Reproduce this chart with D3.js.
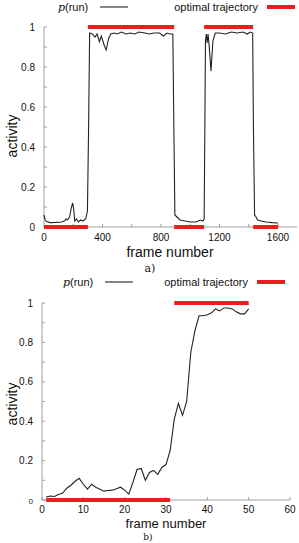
<!DOCTYPE html>
<html><head><meta charset="utf-8">
<script src="https://cdn.jsdelivr.net/npm/d3@7"></script>
<style>body{margin:0;background:#fff}svg{display:block}</style>
</head><body>
<svg id="c" width="299" height="543"></svg>
<script>
// ---- data (a) ----
const aFrames = [0,8,18,40,80,120,140,150,160,175,185,196,203,210,222,235,250,266,285,297,305,312,330,349,363,379,392,411,425,441,457,480,500,530,560,590,620,650,690,720,750,790,817,840,860,881,888,895,909,930,966,1000,1040,1068,1086,1095,1100,1104,1110,1115,1122,1130,1142,1155,1171,1200,1240,1280,1320,1360,1390,1410,1427,1432,1440,1450,1460,1485,1520,1560,1600];
const aValues = [0.06,0.035,0.027,0.022,0.023,0.025,0.03,0.04,0.035,0.05,0.09,0.12,0.09,0.03,0.04,0.025,0.035,0.03,0.04,0.08,0.5,0.97,0.965,0.95,0.965,0.927,0.955,0.91,0.885,0.94,0.965,0.97,0.965,0.975,0.965,0.97,0.965,0.975,0.97,0.965,0.97,0.97,0.955,0.97,0.965,0.965,0.5,0.06,0.05,0.035,0.03,0.025,0.025,0.035,0.03,0.04,0.5,0.93,0.965,0.92,0.965,0.9,0.78,0.93,0.97,0.97,0.965,0.975,0.97,0.975,0.965,0.975,0.97,0.5,0.06,0.05,0.035,0.03,0.025,0.022,0.02];
const aOptStart = [0,300,890,1095,1430];
const aOptEnd   = [300,890,1095,1430,1600];
const aOptLevel = [0,1,0,1,0];
const aXTicks = [0,400,800,1200,1600];
const aXMinor = [200,400,600,800,1000,1200,1400,1600];

// ---- data (b) ----
const bFrames = d3.range(1,51);
const bValues = [0.015,0.02,0.018,0.028,0.035,0.06,0.075,0.095,0.11,0.08,0.055,0.08,0.065,0.055,0.045,0.048,0.05,0.057,0.065,0.05,0.03,0.09,0.155,0.16,0.10,0.14,0.15,0.13,0.165,0.18,0.25,0.41,0.49,0.43,0.50,0.75,0.86,0.935,0.935,0.94,0.95,0.97,0.96,0.975,0.975,0.97,0.955,0.945,0.945,0.97];
const bOptStart = [1,32];
const bOptEnd   = [31,50];
const bOptLevel = [0,1];
const bXTicks = [0,10,20,30,40,50,60];

const yTicks = [0,0.2,0.4,0.6,0.8,1];
const yMinor = d3.range(0,11).map(i=>i/10);

const svg = d3.select('#c');
const SANS = "'Liberation Sans', Arial, sans-serif";
const SERIF = "'DejaVu Serif', 'Liberation Serif', serif";
const AX = '#a0a0a0';
const RED = '#ee1c1c';

function panel(o){
  const x = d3.scaleLinear().domain(o.xDomain).range(o.xRange);
  const y = d3.scaleLinear().domain([0,1]).range(o.yRange);
  const g = svg.append('g');
  g.append('line').attr('x1',x.range()[0]).attr('x2',x.range()[1]).attr('y1',y(0)).attr('y2',y(0)).attr('stroke',AX).attr('stroke-width',1);
  g.append('line').attr('x1',x.range()[0]).attr('x2',x.range()[0]).attr('y1',y(0)).attr('y2',y(1)).attr('stroke',AX).attr('stroke-width',1);
  g.selectAll('.ym').data(yMinor).join('line').attr('x1',x.range()[0]).attr('x2',x.range()[0]+3).attr('y1',d=>y(d)).attr('y2',d=>y(d)).attr('stroke',AX);
  g.selectAll('.xm').data(o.xMinor).join('line').attr('x1',d=>x(d)).attr('x2',d=>x(d)).attr('y1',y(0)).attr('y2',y(0)-3).attr('stroke',AX);
  g.selectAll('.yl').data(yTicks).join('text').attr('x',x.range()[0]-9).attr('y',d=>y(d)+3.5)
    .attr('text-anchor','end').attr('font-family',SANS).attr('font-size',d=>(d===0&&o.smallZero)?8:10).attr('fill','#111')
    .text(d=>d===0?'0':(d===1?'1':d3.format('.1f')(d)));
  g.selectAll('.xl').data(o.xTicks).join('text').attr('x',d=>x(d)).attr('y',y(0)+o.xlOff)
    .attr('text-anchor','middle').attr('font-family',SANS).attr('font-size',10).attr('fill','#111').text(d=>d);
  g.selectAll('.opt').data(o.optStart.map((s,i)=>({s,e:o.optEnd[i],l:o.optLevel[i]}))).join('line')
    .attr('x1',d=>x(d.s)).attr('x2',d=>x(d.e)).attr('y1',d=>y(d.l)).attr('y2',d=>y(d.l))
    .attr('stroke',RED).attr('stroke-width',4);
  const line = d3.line().x(d=>x(d[0])).y(d=>y(d[1]));
  g.append('path').datum(o.frames.map((f,i)=>[f,o.values[i]])).attr('d',line)
    .attr('fill','none').attr('stroke','#222').attr('stroke-width',1.1);
  g.append('text').attr('transform',`translate(${o.ytx},${o.yty}) rotate(-90)`).attr('text-anchor','middle')
    .attr('font-family',SANS).attr('font-size',14).attr('fill','#111').text('activity');
  g.append('text').attr('x',o.xtx).attr('y',o.xty).attr('text-anchor','middle')
    .attr('font-family',SANS).attr('font-size',o.xtSize).attr('fill','#111').text('frame number');
  g.append('text').attr('x',o.capx).attr('y',o.capy).attr('text-anchor','middle')
    .attr('font-family',SERIF).attr('font-size',o.capSize).attr('fill','#111').text(o.cap);
  const lg = g.append('g');
  const t = lg.append('text').attr('x',o.legX).attr('y',o.legY+4).attr('font-size',11).attr('fill','#111');
  t.append('tspan').attr('font-family',SERIF).attr('font-style','italic').text('p');
  t.append('tspan').attr('font-family',SANS).text('(run)');
  lg.append('line').attr('x1',o.legX+42).attr('x2',o.legX+70).attr('y1',o.legY).attr('y2',o.legY).attr('stroke','#222').attr('stroke-width',1.1);
  lg.append('text').attr('x',o.legX2).attr('y',o.legY+4).attr('text-anchor','end').attr('font-family',SANS).attr('font-size',11).attr('fill','#111').text('optimal trajectory');
  lg.append('line').attr('x1',o.legX2+9).attr('x2',o.legX2+37).attr('y1',o.legY).attr('y2',o.legY).attr('stroke',RED).attr('stroke-width',4);
}

panel({xDomain:[0,1730],xRange:[44,297],yRange:[227,27],frames:aFrames,values:aValues,
  optStart:aOptStart,optEnd:aOptEnd,optLevel:aOptLevel,xTicks:aXTicks,xMinor:aXMinor,smallZero:false,xlOff:14,xtSize:14,
  ytx:17,yty:136,xtx:170,xty:257,capx:150,capy:272,capSize:11,cap:'a)',legX:58,legX2:258,legY:7});
panel({xDomain:[0,60],xRange:[42,290],yRange:[500,303],frames:bFrames,values:bValues,
  optStart:bOptStart,optEnd:bOptEnd,optLevel:bOptLevel,xTicks:bXTicks,xMinor:bXTicks,smallZero:true,xlOff:12.5,xtSize:13,
  ytx:17,yty:404,xtx:166,xty:527.5,capx:148,capy:540,capSize:9,cap:'b)',legX:63,legX2:248,legY:282});
</script>
</body></html>
